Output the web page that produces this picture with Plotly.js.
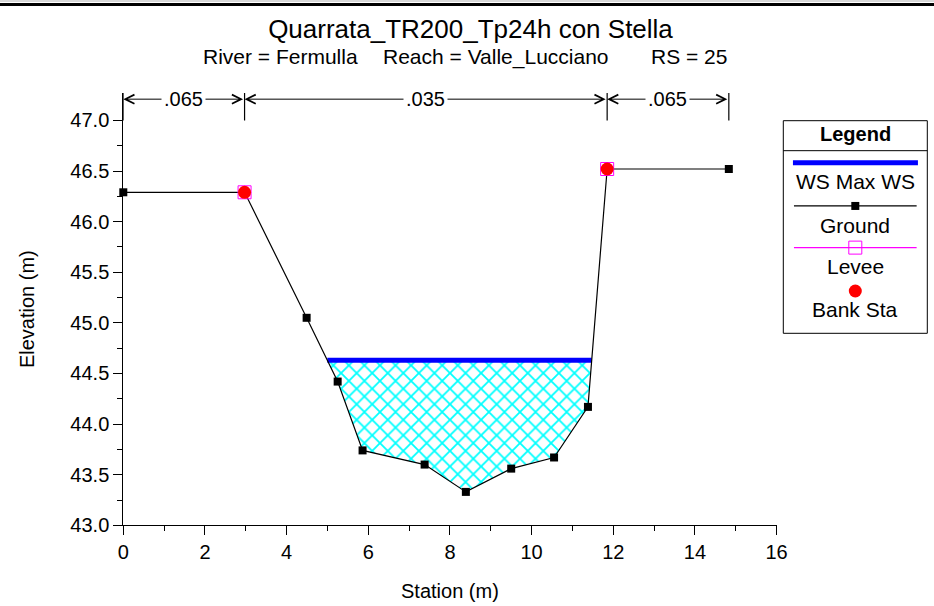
<!DOCTYPE html>
<html>
<head>
<meta charset="utf-8">
<script src="https://cdn.plot.ly/plotly-3.0.1.min.js"></script>
<style>html,body{margin:0;padding:0;background:#fff;}#chart{width:934px;height:606px;}</style>
</head>
<body>
<div id="chart"></div>
<script>
// ---- data ----
const station   = [0, 2.97, 4.49, 5.25, 5.86, 7.38, 8.39, 9.50, 10.55, 11.38, 11.85, 14.83];
const elevation = [46.29, 46.29, 45.05, 44.42, 43.74, 43.60, 43.33, 43.56, 43.67, 44.17, 46.52, 46.52];
const wsElevation = 44.63;
const leveeStation = [2.97, 11.85];
const leveeElevation = [46.29, 46.52];
const bankStation = [2.97, 11.85];
const bankElevation = [46.29, 46.52];
const nBreaks = [0, 2.97, 11.85, 14.83];
const nValues = ['.065', '.035', '.065'];
const titleText = 'Quarrata_TR200_Tp24h con Stella';
const subRiver = 'River = Fermulla';
const subReach = 'Reach = Valle_Lucciano';
const subRS = 'RS = 25';
const legendNames = ['WS Max WS', 'Ground', 'Levee', 'Bank Sta'];
const yTicks = [43.0, 43.5, 44.0, 44.5, 45.0, 45.5, 46.0, 46.5, 47.0];
const yMinorTicks = [43.25, 43.75, 44.25, 44.75, 45.25, 45.75, 46.25, 46.75];

// ---- water polygon from WS elevation and ground ----
function waterPolygon() {
  const xs = [], ys = [];
  let started = false;
  for (let i = 0; i < station.length - 1; i++) {
    const x0 = station[i], y0 = elevation[i], x1 = station[i + 1], y1 = elevation[i + 1];
    if (!started && y0 > wsElevation && y1 <= wsElevation) {
      const t = (y0 - wsElevation) / (y0 - y1);
      xs.push(x0 + t * (x1 - x0)); ys.push(wsElevation);
      started = true;
    }
    if (started) {
      if (y1 <= wsElevation) { xs.push(x1); ys.push(y1); }
      else {
        const t = (wsElevation - y0) / (y1 - y0);
        xs.push(x0 + t * (x1 - x0)); ys.push(wsElevation);
        break;
      }
    }
  }
  return {xs, ys};
}
const water = waterPolygon();
const wsX = [water.xs[0], water.xs[water.xs.length - 1]];

const FONT = 'Liberation Sans, Arial, Helvetica, sans-serif';
const W = 934, H = 606;
const px = v => v / W;
const py = v => 1 - v / H;

// plot area (pixels)
const plotL = 123.3, plotR = 776.6, plotB = 525.3;
const yTop = 47.27;
const plotT = 93.1;

const traces = [
  {x: water.xs, y: water.ys, mode: 'lines', fill: 'toself', line: {width: 0, color: 'rgba(0,0,0,0)'},
   fillcolor: 'rgba(255,255,255,0)',
   fillpattern: {shape: 'x', fgcolor: '#00ffff', bgcolor: 'rgba(255,255,255,0)', size: 11, solidity: 0.3},
   hoverinfo: 'skip', showlegend: false},
  {x: wsX, y: [wsElevation, wsElevation], mode: 'lines', name: legendNames[0],
   line: {color: '#0000ff', width: 5}, showlegend: false, cliponaxis: false},
  {x: station, y: elevation, mode: 'lines+markers', name: legendNames[1],
   line: {color: '#000000', width: 1.2}, marker: {symbol: 'square', size: 8, color: '#000000'}, showlegend: false, cliponaxis: false},
  {x: leveeStation, y: leveeElevation, mode: 'markers', name: legendNames[2],
   marker: {symbol: 'square-open', size: 13, color: '#ff00ff', line: {width: 1, color: '#ff00ff'}}, showlegend: false, cliponaxis: false},
  {x: bankStation, y: bankElevation, mode: 'markers', name: legendNames[3],
   marker: {symbol: 'circle', size: 13, color: '#ff0000'}, showlegend: false, cliponaxis: false}
];

// ---- custom legend in its own hidden axes ----
const lgRow = f => 1 - f; // fraction from top -> axis value
traces.push(
  {x: [0.067, 0.935], y: [lgRow(0.198), lgRow(0.198)], xaxis: 'x2', yaxis: 'y2', mode: 'lines',
   line: {color: '#0000ff', width: 5}, showlegend: false, hoverinfo: 'skip', cliponaxis: false},
  {x: [0.074, 0.926], y: [lgRow(0.401), lgRow(0.401)], xaxis: 'x2', yaxis: 'y2', mode: 'lines',
   line: {color: '#000000', width: 1.2}, showlegend: false, hoverinfo: 'skip', cliponaxis: false},
  {x: [0.5], y: [lgRow(0.401)], xaxis: 'x2', yaxis: 'y2', mode: 'markers',
   marker: {symbol: 'square', size: 8, color: '#000000'}, showlegend: false, hoverinfo: 'skip', cliponaxis: false},
  {x: [0.074, 0.926], y: [lgRow(0.597), lgRow(0.597)], xaxis: 'x2', yaxis: 'y2', mode: 'lines',
   line: {color: '#ff00ff', width: 1.2}, showlegend: false, hoverinfo: 'skip', cliponaxis: false},
  {x: [0.5], y: [lgRow(0.597)], xaxis: 'x2', yaxis: 'y2', mode: 'markers',
   marker: {symbol: 'square-open', size: 13, color: '#ff00ff', line: {width: 1, color: '#ff00ff'}}, showlegend: false, hoverinfo: 'skip', cliponaxis: false},
  {x: [0.5], y: [lgRow(0.801)], xaxis: 'x2', yaxis: 'y2', mode: 'markers',
   marker: {symbol: 'circle', size: 13, color: '#ff0000'}, showlegend: false, hoverinfo: 'skip', cliponaxis: false}
);

const annotations = [];
// subtitle
annotations.push(
  {text: subRiver, xref: 'paper', yref: 'paper', x: px(360), y: py(57), xanchor: 'right', yanchor: 'middle', showarrow: false, font: {size: 21, family: FONT, color: '#000'}},
  {text: subReach, xref: 'paper', yref: 'paper', x: px(381), y: py(57), xanchor: 'left', yanchor: 'middle', showarrow: false, font: {size: 21, family: FONT, color: '#000'}},
  {text: subRS, xref: 'paper', yref: 'paper', x: px(649), y: py(57), xanchor: 'left', yanchor: 'middle', showarrow: false, font: {size: 21, family: FONT, color: '#000'}}
);
// Manning's n dimension arrows
const arrowY = 47.21;
for (let i = 0; i < nValues.length; i++) {
  annotations.push({
    text: '', x: nBreaks[i], y: arrowY, ax: nBreaks[i + 1], ay: arrowY, xref: 'x', yref: 'y', axref: 'x', ayref: 'y',
    showarrow: true, arrowside: 'end+start', arrowhead: 5, arrowsize: 1.8, arrowwidth: 1, arrowcolor: '#000',
    standoff: 0, startstandoff: 0
  });
  annotations.push({
    text: nValues[i], x: (nBreaks[i] + nBreaks[i + 1]) / 2, y: arrowY, xref: 'x', yref: 'y',
    showarrow: false, bgcolor: '#ffffff', borderpad: 2, xanchor: 'center', yanchor: 'middle',
    font: {size: 20, family: FONT, color: '#000'}
  });
}
// legend texts
const lgText = (t, f, bold) => ({text: bold ? '<b>' + t + '</b>' : t, xref: 'x2 domain', yref: 'y2 domain', x: 0.5, y: 1 - f,
  xanchor: 'center', yanchor: 'middle', showarrow: false, font: {size: bold ? 20 : 21, family: FONT, color: '#000'}});
annotations.push(
  lgText('Legend', 0.062, true),
  lgText(legendNames[0], 0.287),
  lgText(legendNames[1], 0.491),
  lgText(legendNames[2], 0.687),
  lgText(legendNames[3], 0.890)
);

const shapes = [];
// top window border
shapes.push({type: 'line', xref: 'paper', yref: 'paper', x0: 0, x1: 1, y0: py(1.0), y1: py(1.0), line: {color: '#b0b0b0', width: 1}});
shapes.push({type: 'rect', xref: 'paper', yref: 'paper', x0: 0, x1: 1, y0: py(6), y1: py(3), fillcolor: '#000', line: {width: 0}});
// n-value break lines
nBreaks.forEach(b => shapes.push({type: 'line', xref: 'x', yref: 'y', x0: b, x1: b, y0: 47.0, y1: yTop, line: {color: '#000', width: 1.2}}));
// legend box
shapes.push({type: 'rect', xref: 'x2 domain', yref: 'y2 domain', x0: 0, x1: 1, y0: 0, y1: 1, line: {color: '#000', width: 1}, fillcolor: 'rgba(0,0,0,0)'});
shapes.push({type: 'line', xref: 'x2 domain', yref: 'y2 domain', x0: 0, x1: 1, y0: 1 - 0.141, y1: 1 - 0.141, line: {color: '#000', width: 1}});

const layout = {
  width: W, height: H,
  margin: {l: 0, r: 0, t: 0, b: 0},
  paper_bgcolor: '#fff', plot_bgcolor: '#fff',
  font: {family: FONT, color: '#000'},
  showlegend: false,
  title: {text: titleText, font: {size: 26, family: FONT, color: '#000'}, x: px(470.5), xanchor: 'center', xref: 'paper', y: py(28.5), yref: 'paper', yanchor: 'middle'},
  xaxis: {
    domain: [px(plotL), px(plotR)], range: [0, 16], anchor: 'y', automargin: false,
    showgrid: false, zeroline: false, showline: true, linecolor: '#000', linewidth: 1,
    ticks: 'outside', ticklen: 9, tickwidth: 1, tickcolor: '#000', dtick: 2, tick0: 0,
    minor: {ticks: 'outside', ticklen: 5, dtick: 1, tickcolor: '#000', tickwidth: 1},
    tickfont: {size: 20, family: FONT, color: '#000'},
    title: {text: 'Station (m)', font: {size: 20, family: FONT, color: '#000'}, standoff: 21}
  },
  yaxis: {
    domain: [py(plotB), py(plotT)], range: [43, yTop], anchor: 'x', automargin: false,
    showgrid: false, zeroline: false, showline: true, linecolor: '#000', linewidth: 1,
    ticks: 'outside', ticklen: 9, tickwidth: 1, tickcolor: '#000',
    tickmode: 'array', tickvals: yTicks, ticktext: yTicks.map(v => v.toFixed(1)),
    minor: {ticks: 'outside', ticklen: 5, tickmode: 'array', tickvals: yMinorTicks, tickcolor: '#000', tickwidth: 1},
    tickfont: {size: 20, family: FONT, color: '#000'},
    title: {text: 'Elevation (m)', font: {size: 20, family: FONT, color: '#000'}, standoff: 30}
  },
  xaxis2: {domain: [px(783.3), px(927.3)], range: [0, 1], anchor: 'y2', visible: false, fixedrange: true},
  yaxis2: {domain: [py(333.3), py(120.7)], range: [0, 1], anchor: 'x2', visible: false, fixedrange: true},
  annotations: annotations,
  shapes: shapes
};

Plotly.newPlot('chart', traces, layout, {displayModeBar: false, staticPlot: true});
</script>
</body>
</html>
